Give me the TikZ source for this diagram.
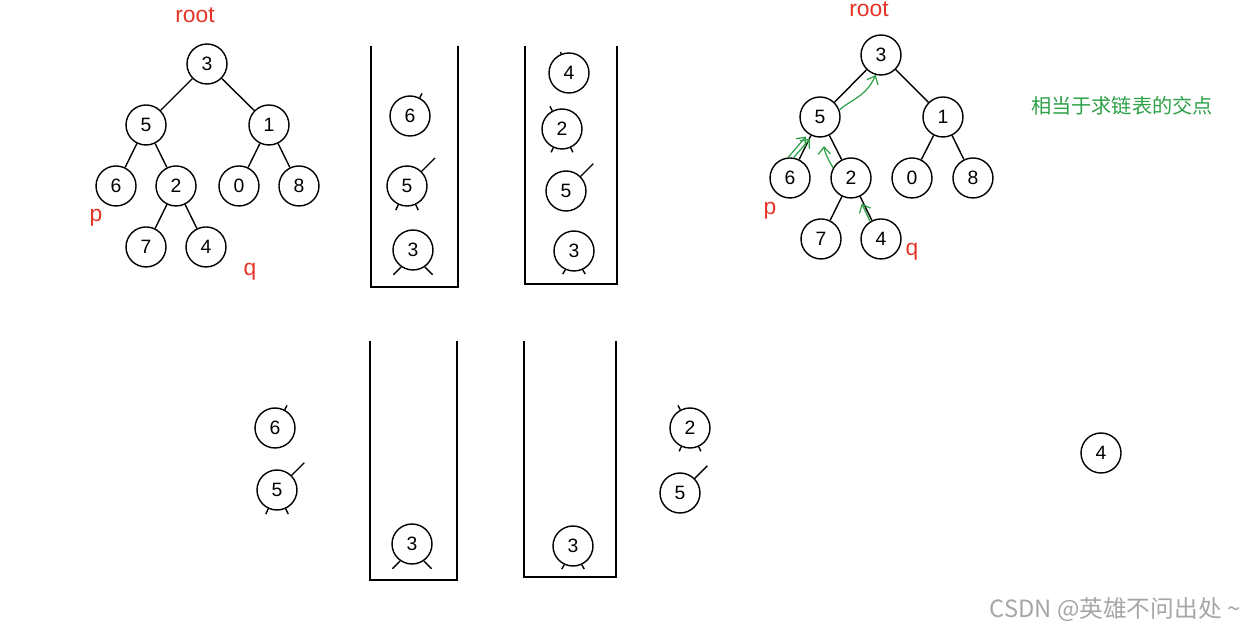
\documentclass[tikz,border=0pt]{standalone}
\usepackage{fontspec}
\setmainfont{Liberation Sans}
\newfontfamily\cjk{Noto Sans CJK SC}
\usetikzlibrary{positioning,arrows.meta}

\definecolor{ptrred}{RGB}{228,52,40}
\definecolor{markgreen}{RGB}{46,160,72}
\tikzset{
  num/.style={circle,draw,line width=0.8pt,minimum size=0.8cm,inner sep=0pt,
    font=\fontsize{11}{12}\selectfont},
  ptr/.style={text=ptrred,font=\fontsize{13}{15}\selectfont},
  stub/.style={line width=0.8pt},
  stack/.style={line width=1pt},
  trail/.style={markgreen,line width=0.7pt,-{Straight Barb[length=4pt,width=7pt]}},
}

\begin{document}
\begin{tikzpicture}[x=0.02cm,y=-0.02cm,node distance=1.22cm and 0.6cm,on grid]
  \useasboundingbox (0,0) rectangle (1248,631);

  % tree on the left
  \node[num] (a3) at (207,64) {3};
  \node[num] (a5) [below left=1.22cm and 1.22cm of a3] {5};
  \node[num] (a1) [below right=1.22cm and 1.24cm of a3] {1};
  \node[num] (a6) [below left=of a5] {6};
  \node[num] (a2) [below right=of a5] {2};
  \node[num] (a0) [below left=of a1] {0};
  \node[num] (a8) [below right=of a1] {8};
  \node[num] (a7) [below left=of a2] {7};
  \node[num] (a4) [below right=of a2] {4};
  \path[line width=0.8pt]
    (a3) edge (a5) (a3) edge (a1)
    (a5) edge (a6) (a5) edge (a2)
    (a1) edge (a0) (a1) edge (a8)
    (a2) edge (a7) (a2) edge (a4);
  \node[ptr] (aroot) at (195,15) {root};
  \node[ptr] (ap) at (96,218) {p};
  \node[ptr] (aq) at (250,272) {q};

  % stacks, top row
  \draw[stack] (371,46) |- (458,287) -- (458,46);
  \draw[stack] (525,46) |- (617,284) -- (617,46);
  \node[num] (stkA6) at (410,116) {6};
  \node[num] (stkA5) at (407,186) {5};
  \node[num] (stkA3) at (413,250) {3};
  \node[num] (stkB4) at (569,73) {4};
  \node[num] (stkB2) at (562,129) {2};
  \node[num] (stkB5) at (566,191) {5};
  \node[num] (stkB3) at (574,251) {3};
  \draw[stub] (stkA6.62) -- ++(62:0.1cm);
  \draw[stub] (stkA5.45) -- ++(45:0.38cm);
  \draw[stub] (stkA5.-115) -- ++(-115:0.12cm);
  \draw[stub] (stkA5.-65) -- ++(-65:0.12cm);
  \draw[stub] (stkA3.-125) -- ++(-135:0.22cm);
  \draw[stub] (stkA3.-55) -- ++(-45:0.22cm);
  \draw[stub] (stkB4.112) -- ++(112:0.04cm);
  \draw[stub] (stkB2.118) -- ++(118:0.1cm);
  \draw[stub] (stkB2.-115) -- ++(-115:0.1cm);
  \draw[stub] (stkB2.-65) -- ++(-65:0.1cm);
  \draw[stub] (stkB5.45) -- ++(45:0.36cm);
  \draw[stub] (stkB3.-115) -- ++(-120:0.1cm);
  \draw[stub] (stkB3.-65) -- ++(-60:0.1cm);

  % tree on the right
  \node[num] (b3) at (881,55) {3};
  \node[num] (b5) [below left=1.24cm and 1.22cm of b3] {5};
  \node[num] (b1) [below right=1.24cm and 1.24cm of b3] {1};
  \node[num] (b6) [below left=of b5] {6};
  \node[num] (b2) [below right=1.22cm and 0.62cm of b5] {2};
  \node[num] (b0) [below left=1.22cm and 0.62cm of b1] {0};
  \node[num] (b8) [below right=1.22cm and 0.6cm of b1] {8};
  \node[num] (b7) [below left=of b2] {7};
  \node[num] (b4) [below right=of b2] {4};
  \path[line width=0.8pt]
    (b3) edge (b5) (b3) edge (b1)
    (b5) edge (b6) (b5) edge (b2)
    (b1) edge (b0) (b1) edge (b8)
    (b2) edge (b7) (b2) edge (b4);
  \node[ptr] (broot) at (869,9) {root};
  \node[ptr] (bp) at (770,211) {p};
  \node[ptr] (bq) at (912,252) {q};
  \draw[trail] (b5.20) .. controls (850,100) and (866,97) .. (b3.-105);
  \draw[trail,shorten >=2pt] (b6.95) -- (b5.-125);
  \draw[trail,shorten >=2pt] (b6.80) -- (b5.-112);
  \draw[trail,shorten >=5pt] (b2.150) to[bend left=15] (b5.-80);
  \draw[trail,shorten >=4pt] (b4.122) -- (b2.-68);
  \node[markgreen,font=\cjk\fontsize{11.5}{14}\selectfont] (note) at (1122,106) {相当于求链表的交点};

  % stacks, bottom row
  \draw[stack] (370,341) |- (457,580) -- (457,341);
  \draw[stack] (524,341) |- (616,577) -- (616,341);
  \node[num] (stkC3) at (412,544) {3};
  \node[num] (stkD3) at (573,546) {3};
  \draw[stub] (stkC3.-125) -- ++(-135:0.22cm);
  \draw[stub] (stkC3.-55) -- ++(-45:0.22cm);
  \draw[stub] (stkD3.-115) -- ++(-120:0.1cm);
  \draw[stub] (stkD3.-65) -- ++(-60:0.1cm);

  % popped nodes
  \node[num] (out6) at (275,428) {6};
  \node[num] (out5) at (277,490) {5};
  \node[num] (pop2) at (690,428) {2};
  \node[num] (pop5) at (680,493) {5};
  \node[num] (last4) at (1101,453) {4};
  \draw[stub] (out6.62) -- ++(62:0.1cm);
  \draw[stub] (out5.45) -- ++(45:0.36cm);
  \draw[stub] (out5.-115) -- ++(-115:0.12cm);
  \draw[stub] (out5.-65) -- ++(-65:0.12cm);
  \draw[stub] (pop2.118) -- ++(118:0.1cm);
  \draw[stub] (pop2.-115) -- ++(-115:0.1cm);
  \draw[stub] (pop2.-65) -- ++(-65:0.1cm);
  \draw[stub] (pop5.45) -- ++(45:0.36cm);

  \node[text=black!35,font=\cjk\fontsize{13.5}{15}\selectfont] (mark) at (1115,610) {CSDN @英雄不问出处 \textasciitilde};
\end{tikzpicture}
\end{document}
